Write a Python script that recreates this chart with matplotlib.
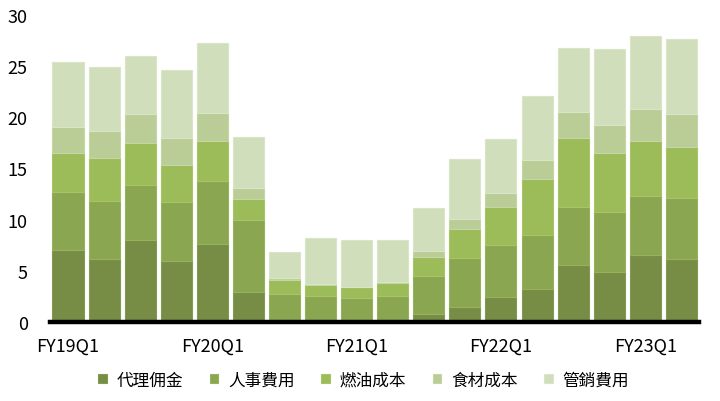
import matplotlib
matplotlib.use("Agg")
import matplotlib.pyplot as plt
import numpy as np

plt.rcParams['font.family'] = ['Noto Sans CJK TC', 'DejaVu Sans']

quarters = ["FY19Q1", "FY19Q2", "FY19Q3", "FY19Q4",
            "FY20Q1", "FY20Q2", "FY20Q3", "FY20Q4",
            "FY21Q1", "FY21Q2", "FY21Q3", "FY21Q4",
            "FY22Q1", "FY22Q2", "FY22Q3", "FY22Q4",
            "FY23Q1", "FY23Q2"]

series_names = ["代理佣金", "人事費用", "燃油成本", "食材成本", "管銷費用"]

agency = [7.05, 6.1, 8.0, 5.9, 7.6, 2.9, 0.05, 0.2, 0.05, 0.05, 0.75, 1.45, 2.45, 3.2, 5.6, 4.9, 6.55, 6.15]
personnel = [5.6, 5.7, 5.4, 5.8, 6.15, 7.1, 2.7, 2.35, 2.3, 2.5, 3.75, 4.8, 5.1, 5.3, 5.65, 5.8, 5.8, 6.0]
fuel = [3.85, 4.2, 4.1, 3.6, 3.9, 2.05, 1.3, 1.05, 1.05, 1.2, 1.85, 2.85, 3.65, 5.5, 6.7, 5.8, 5.3, 4.9]
food = [2.6, 2.7, 2.8, 2.65, 2.75, 1.05, 0.2, 0.1, 0.05, 0.15, 0.55, 1.0, 1.4, 1.85, 2.6, 2.75, 3.15, 3.3]
sga = [6.3, 6.2, 5.7, 6.65, 6.9, 4.95, 2.55, 4.45, 4.6, 4.15, 4.2, 5.8, 5.3, 6.2, 6.2, 7.4, 7.15, 7.35]

colors = ["#778D45", "#8AA650", "#9CBB59", "#BACD96", "#D1DEBB"]
edge_colors = ["#849A52", "#97B25D", "#A8C566", "#C4D6A3", "#DAE5C8"]

fig = plt.figure(figsize=(7.2, 4.02), dpi=100)
ax = fig.add_axes([0.0694, 0.197, 0.902, 0.763])

x = np.arange(len(quarters))
bottom = np.zeros(len(quarters))
for name, vals, c, ec in zip(series_names, [agency, personnel, fuel, food, sga], colors, edge_colors):
    v = np.array(vals)
    ax.bar(x, v, width=0.86, bottom=bottom, color=c, edgecolor=ec, linewidth=0.8, label=name)
    bottom += v

ax.set_xlim(-0.5, len(quarters) - 0.5)
ax.set_ylim(0, 30)
ax.set_yticks([0, 5, 10, 15, 20, 25, 30])
ax.tick_params(axis='y', length=0, labelsize=13, pad=16)
ax.set_xticks(x[::4])
ax.set_xticklabels(quarters[::4])
ax.tick_params(axis='x', length=0, labelsize=13, pad=11)

for s in ["top", "right", "left"]:
    ax.spines[s].set_visible(False)
ax.spines["bottom"].set_linewidth(3.2)
ax.spines["bottom"].set_color("black")
ax.spines["bottom"].set_zorder(5)

leg = fig.legend(loc="center", bbox_to_anchor=(0.505, 0.052), ncol=5, frameon=False,
                 fontsize=12, handlelength=0.5, handleheight=0.5, handletextpad=0.6,
                 columnspacing=1.6)

fig.savefig("out.png", dpi=100)
